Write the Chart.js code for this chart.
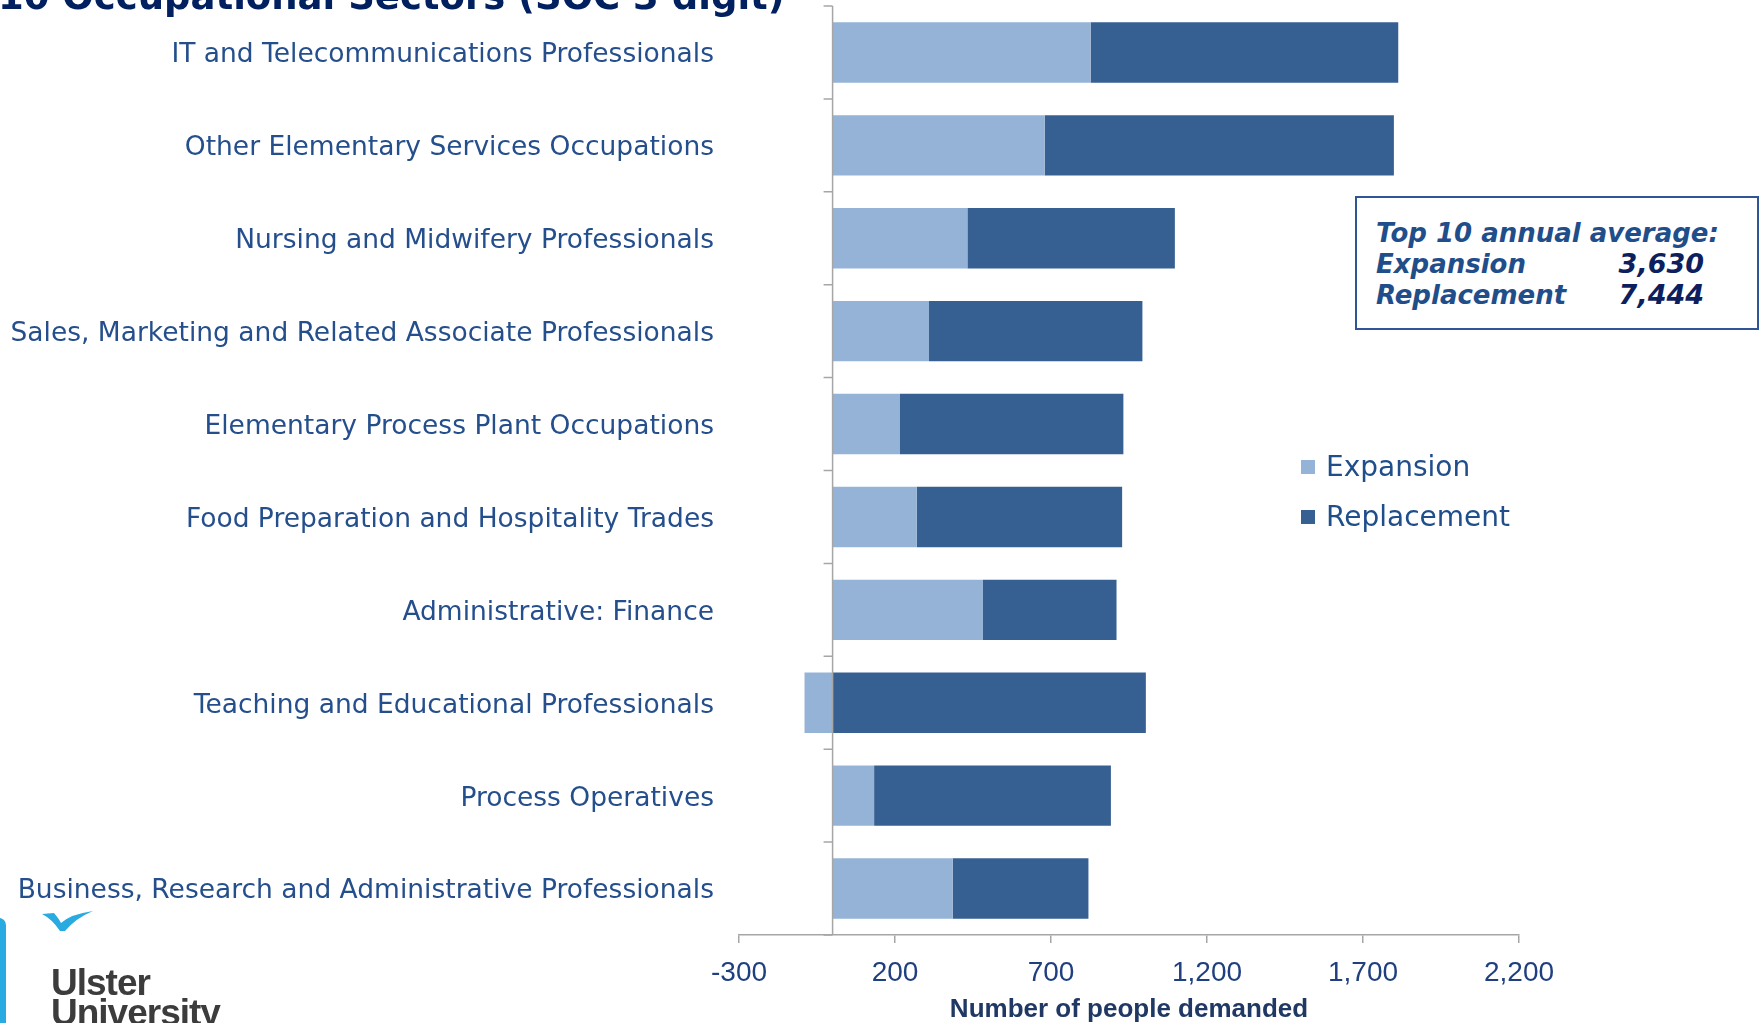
<!DOCTYPE html>
<html>
<head>
<meta charset="utf-8">
<title>Top 10 Occupational Sectors</title>
<script src="https://cdn.jsdelivr.net/npm/chart.js@4.4.1/dist/chart.umd.min.js"></script>
<style>
  html, body { margin: 0; padding: 0; background: #fff; }
  #wrap { position: relative; width: 1759px; height: 1023px; overflow: hidden; }
  #chartBox { position: absolute; left: 0; top: 0; width: 1759px; height: 1023px; }
  .page-title {
    position: absolute; left: -2px; top: -22px;
    font: bold 37px "DejaVu Sans"; line-height: 37px;
    color: #002060; white-space: nowrap;
  }
  .info {
    position: absolute; left: 1355px; top: 196px; width: 400px; height: 130px;
    border: 2px solid #2F5597; background: #fff;
    font-family: "DejaVu Sans"; font-weight: bold; font-style: italic;
    color: #1F4E8A;
  }
  .info div { position: absolute; white-space: nowrap; font-size: 26px; line-height: 30px; }
  .info .num { color: #0D1F5F; font-size: 27px; text-align: right; width: 120px; }
  #legend { position: absolute; left: 1301px; top: 448px; font: 28px "DejaVu Sans"; color: #1F4E8A; }
  #legend .item { position: relative; height: 50px; line-height: 38px; padding-left: 25px; white-space: nowrap; }
  #legend .sw { position: absolute; left: 0; top: 12px; width: 14px; height: 14px; }
  .logo-bar { position: absolute; left: -8px; top: 918px; width: 14px; height: 120px; background: #29ABE2; border-radius: 7px; }
  .logo-bird { position: absolute; left: 42px; top: 911px; }
  .logo-text {
    position: absolute; left: 51px; top: 968px;
    font: bold 37px "Liberation Sans"; line-height: 30px; letter-spacing: -1px;
    color: #3C3C3C;
  }
</style>
</head>
<body>
<div id="wrap">
  <div id="chartBox"><canvas id="occChart"></canvas></div>
  <div class="page-title">10 Occupational Sectors (SOC 3 digit)</div>
  <div class="info">
    <div style="left:19px; top:20px;">Top 10 annual average:</div>
    <div style="left:19px; top:51px;">Expansion</div>
    <div class="num" style="left:227px; top:51px;">3,630</div>
    <div style="left:19px; top:82px;">Replacement</div>
    <div class="num" style="left:227px; top:82px;">7,444</div>
  </div>
  <div id="legend"></div>
  <div class="logo-bar"></div>
  <svg class="logo-bird" width="52" height="22" viewBox="0 0 52 22">
    <path d="M0 3 L12 2 Q17 8 19 12 Q29 3 51 0 Q34 7 23 20 L18 20 Q10 8 0 3 Z" fill="#29ABE2"/>
  </svg>
  <div class="logo-text">Ulster<br>University</div>
</div>

<script>
/* ======================================================
   DATA
====================================================== */

const sectors = [
  "IT and Telecommunications Professionals",
  "Other Elementary Services Occupations",
  "Nursing and Midwifery Professionals",
  "Sales, Marketing and Related Associate Professionals",
  "Elementary Process Plant Occupations",
  "Food Preparation and Hospitality Trades",
  "Administrative: Finance",
  "Teaching and Educational Professionals",
  "Process Operatives",
  "Business, Research and Administrative Professionals"
];

const expansion   = [827, 680, 432, 309, 216, 270, 482, -90, 133, 385];
const replacement = [986, 1119, 665, 684, 716, 658, 428, 1004, 759, 435];

const xMin = -300;
const xMax = 2200;
const xStep = 500;

const COLORS = {
  expansion: "#95B3D7",
  replacement: "#376092",
  axis: "#A6A6A6",
  label: "#254F8C",
  tick: "#1F3F7F",
  axisTitle: "#1F3864"
};

/* ======================================================
   PLUGINS
====================================================== */

// vertical axis crossing at zero, with tick marks between categories
const zeroAxis = {
  id: "zeroAxis",
  afterDatasetsDraw(chart) {
    const { ctx, scales } = chart;
    const x0 = scales.x.getPixelForValue(0);
    const yTop = scales.y.getPixelForValue(-0.5);
    const yBot = scales.y.getPixelForValue(sectors.length - 0.5);

    ctx.save();
    ctx.strokeStyle = COLORS.axis;
    ctx.lineWidth = 1.5;
    ctx.beginPath();
    ctx.moveTo(x0, yTop);
    ctx.lineTo(x0, yBot);
    for (let i = 0; i <= sectors.length; i++) {
      const y = scales.y.getPixelForValue(i - 0.5);
      ctx.moveTo(x0 - 9, y);
      ctx.lineTo(x0, y);
    }
    ctx.stroke();
    ctx.restore();
  }
};

/* ======================================================
   CHART
====================================================== */

function buildLegend(chart) {
  const box = document.getElementById("legend");
  box.innerHTML = "";
  chart.data.datasets.forEach(ds => {
    const item = document.createElement("div");
    item.className = "item";
    const sw = document.createElement("span");
    sw.className = "sw";
    sw.style.background = ds.backgroundColor;
    item.appendChild(sw);
    item.appendChild(document.createTextNode(ds.label));
    box.appendChild(item);
  });
}

const ctx = document.getElementById("occChart");

const occChart = new Chart(ctx, {
  type: "bar",
  data: {
    labels: sectors,
    datasets: [
      {
        label: "Expansion",
        data: expansion,
        backgroundColor: COLORS.expansion,
        barPercentage: 0.65,
        categoryPercentage: 1
      },
      {
        label: "Replacement",
        data: replacement,
        backgroundColor: COLORS.replacement,
        barPercentage: 0.65,
        categoryPercentage: 1
      }
    ]
  },
  options: {
    indexAxis: "y",
    responsive: true,
    maintainAspectRatio: false,
    animation: false,
    layout: { padding: { top: 6, right: 240, left: 0, bottom: 0 } },
    plugins: {
      legend: { display: false },
      tooltip: { enabled: false }
    },
    scales: {
      x: {
        stacked: true,
        min: xMin,
        max: xMax,
        ticks: {
          stepSize: xStep,
          padding: 13,
          color: COLORS.tick,
          font: { family: "Liberation Sans", size: 28 }
        },
        grid: {
          drawOnChartArea: false,
          drawTicks: true,
          tickLength: 8,
          color: COLORS.axis,
          lineWidth: 1.5
        },
        border: { display: true, color: COLORS.axis, width: 1.5 },
        title: {
          display: true,
          text: "Number of people demanded",
          color: COLORS.axisTitle,
          font: { family: "Liberation Sans", size: 26, weight: "bold" },
          padding: { top: 0, bottom: -2 }
        },
        afterFit(scale) { scale.height = 88; }
      },
      y: {
        stacked: true,
        ticks: {
          autoSkip: false,
          padding: 25,
          labelOffset: 3,
          color: COLORS.label,
          font: { family: "DejaVu Sans", size: 26.5 }
        },
        grid: { display: false, drawTicks: false },
        border: { display: false },
        afterFit(scale) {
          scale.width = 739;
          scale.paddingTop = 0;
          scale.paddingBottom = 0;
        }
      }
    }
  },
  plugins: [zeroAxis]
});

buildLegend(occChart);
</script>
</body>
</html>
